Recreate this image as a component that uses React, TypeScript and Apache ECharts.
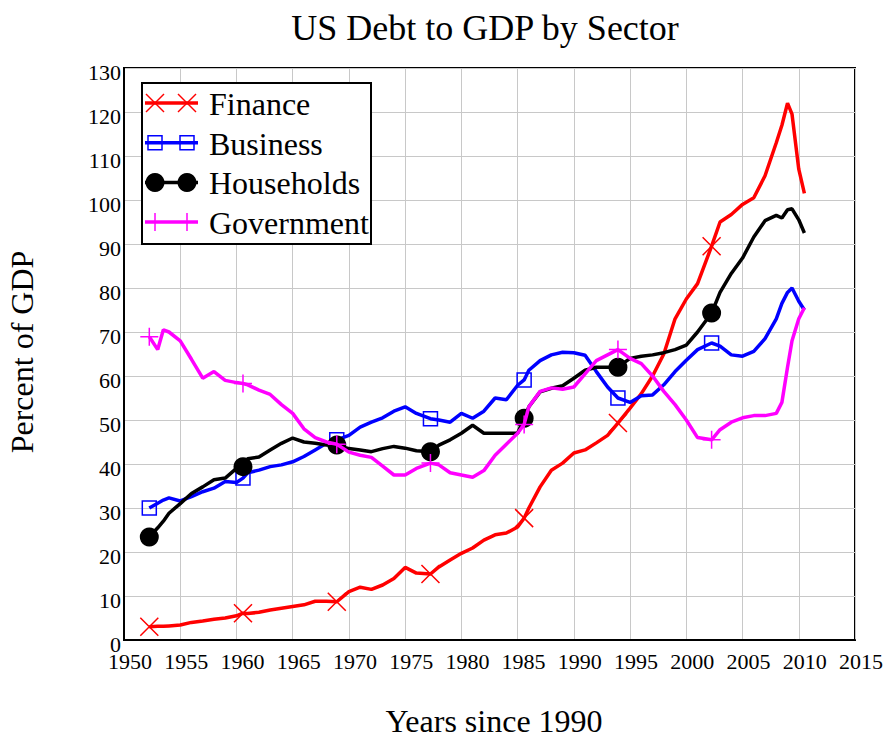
import React, { useEffect, useRef } from "react";
import * as echarts from "echarts";

const years = [
  1952.25, 1953, 1953.5, 1954, 1955, 1956, 1957, 1958, 1959, 1960,
  1960.58, 1961, 1962, 1963, 1964, 1965, 1966, 1967, 1968, 1968.92,
  1970, 1971, 1972, 1973, 1974, 1975, 1976, 1977.25, 1978, 1979,
  1980, 1981, 1982, 1983, 1984, 1985, 1985.58, 1986, 1987, 1988,
  1989, 1990, 1991, 1992, 1993, 1993.92, 1995, 1996, 1997, 1998,
  1999, 2000, 2001, 2002.25, 2003, 2004, 2005, 2006, 2007, 2008,
  2008.5, 2009, 2009.4, 2010, 2010.5,
];

const finance = [
  3, 3.1, 3.1, 3.2, 3.4, 4, 4.3, 4.7, 5, 5.5,
  6.1, 6, 6.3, 6.8, 7.2, 7.6, 8, 8.8, 8.8, 8.7,
  11, 12, 11.5, 12.5, 14, 16.5, 15.2, 15, 16.6, 18.2,
  19.7, 20.9, 22.7, 23.9, 24.3, 25.7, 27.7, 30, 34.8, 38.6,
  40.2, 42.5, 43.2, 44.8, 46.5, 49.3, 52.7, 56, 60, 65,
  73, 77.5, 81, 89.5, 95, 96.7, 99, 100.5, 105.5, 113,
  117, 122, 119.5, 107, 101.5,
];

const business = [
  30, 31.1, 31.8, 32.3, 31.6, 32.6, 33.7, 34.5, 36, 35.8,
  36.8, 38, 38.6, 39.4, 39.8, 40.5, 41.7, 43.2, 44.7, 45.5,
  46.5, 48.4, 49.5, 50.5, 52, 53, 51.5, 50.3, 50, 49.5,
  51.5, 50.4, 52, 55, 54.6, 57.9, 59.1, 61.3, 63.5, 64.8,
  65.4, 65.3, 64.7, 61, 57.5, 55, 54, 55.5, 55.7, 58,
  61, 63.6, 66, 67.5, 66.8, 64.8, 64.5, 65.6, 68.5, 73,
  76.5, 79, 80, 77, 75,
];

const households = [
  23.4, 25.5, 27, 28.8, 31, 33.3, 34.8, 36.4, 36.8, 39,
  39.4, 41.2, 41.6, 43.2, 44.7, 45.9, 45, 44.7, 44.3, 44.3,
  43.5, 43.2, 42.8, 43.5, 44, 43.6, 43, 42.8, 44.3, 45.5,
  47, 48.8, 47, 47, 47, 47, 50.4, 53, 56.4, 57.2,
  57.8, 59.5, 61.3, 62, 62, 62, 64, 64.5, 64.8, 65.3,
  66, 67, 70, 74.3, 79, 83.3, 86.8, 91.6, 95.3, 96.5,
  95.9, 97.8, 98, 95.5, 92.5,
];

const government = [
  68.9, 66, 70.5, 70, 68, 63.8, 59.5, 61, 59, 58.5,
  58.3, 58, 56.8, 55.8, 53.5, 51.5, 48, 46, 45, 44.5,
  42.7, 42, 41.5, 39.5, 37.5, 37.5, 39, 40.2, 39.8, 38,
  37.5, 37, 38.5, 42, 44.5, 47, 49, 53, 56.5, 57.3,
  57, 57.5, 60.5, 63.5, 64.8, 66, 64, 62.8, 60, 56.5,
  53.5, 50, 46, 45.5, 47.8, 49.5, 50.5, 51, 51, 51.5,
  54, 62, 68, 73, 75.5,
];

const markerYears = [1952.25, 1960.58, 1968.92, 1977.25, 1985.58, 1993.92, 2002.25];

const seriesNames = ["Finance", "Business", "Households", "Government"];
const seriesColors = ["#ff0000", "#0000ff", "#000000", "#ff00ff"];

const X_MIN = 1950;
const X_MAX = 2015;
const X_STEP = 5;
const Y_MIN = 0;
const Y_MAX = 130;
const Y_STEP = 10;

const FONT = "Liberation Serif";

function buildData(vals: number[]) {
  return years.map((yr, i) =>
    markerYears.includes(yr)
      ? { value: [yr, vals[i]] }
      : { value: [yr, vals[i]], symbol: "none" }
  );
}

const X_PATH = "path://M0,0L10,10M10,0L0,10";
const PLUS_PATH = "path://M5,0L5,10M0,5L10,5";

export default function App() {
  const ref = useRef<HTMLDivElement>(null);

  useEffect(() => {
    if (!ref.current) return;
    const chart = echarts.init(ref.current, null, { renderer: "svg" });

    const allVals = [finance, business, households, government];
    const symbolDefs = [
      { symbol: X_PATH, symbolSize: 18, itemStyle: { color: "rgba(0,0,0,0)", borderColor: "#ff0000", borderWidth: 1.5 } },
      { symbol: "rect", symbolSize: 14, itemStyle: { color: "rgba(0,0,0,0)", borderColor: "#0000ff", borderWidth: 1.5 } },
      { symbol: "circle", symbolSize: 19, itemStyle: { color: "#000000", borderWidth: 0 } },
      { symbol: PLUS_PATH, symbolSize: 18, itemStyle: { color: "rgba(0,0,0,0)", borderColor: "#ff00ff", borderWidth: 1.5 } },
    ];

    const series = seriesNames.map((name, k) => ({
      name,
      type: "line",
      xAxisIndex: 0,
      yAxisIndex: 0,
      data: buildData(allVals[k]),
      showSymbol: true,
      showAllSymbol: true,
      symbol: symbolDefs[k].symbol,
      symbolSize: symbolDefs[k].symbolSize,
      itemStyle: symbolDefs[k].itemStyle,
      lineStyle: { color: seriesColors[k], width: 3.5 },
      emphasis: { disabled: true },
      silent: true,
      z: 2 + k,
    }));

    const legendEls: any[] = [
      {
        type: "rect",
        shape: { x: 142, y: 83, width: 229, height: 161 },
        style: { fill: "#ffffff", stroke: "#000000", lineWidth: 2 },
        z: 100,
      },
    ];
    seriesNames.forEach((name, k) => {
      const yc = 103 + 39.7 * k;
      const c = seriesColors[k];
      legendEls.push({
        type: "line",
        shape: { x1: 145, y1: yc, x2: 198, y2: yc },
        style: { stroke: c, lineWidth: 3.5 },
        z: 101,
      });
      [155, 187].forEach((mx) => {
        if (k === 0) {
          legendEls.push({ type: "line", shape: { x1: mx - 9, y1: yc - 9, x2: mx + 9, y2: yc + 9 }, style: { stroke: c, lineWidth: 1.5 }, z: 102 });
          legendEls.push({ type: "line", shape: { x1: mx + 9, y1: yc - 9, x2: mx - 9, y2: yc + 9 }, style: { stroke: c, lineWidth: 1.5 }, z: 102 });
        } else if (k === 1) {
          legendEls.push({ type: "rect", shape: { x: mx - 7, y: yc - 7, width: 14, height: 14 }, style: { fill: "none", stroke: c, lineWidth: 1.5 }, z: 102 });
        } else if (k === 2) {
          legendEls.push({ type: "circle", shape: { cx: mx, cy: yc, r: 9.5 }, style: { fill: c }, z: 102 });
        } else {
          legendEls.push({ type: "line", shape: { x1: mx - 9, y1: yc, x2: mx + 9, y2: yc }, style: { stroke: c, lineWidth: 1.5 }, z: 102 });
          legendEls.push({ type: "line", shape: { x1: mx, y1: yc - 9, x2: mx, y2: yc + 9 }, style: { stroke: c, lineWidth: 1.5 }, z: 102 });
        }
      });
      legendEls.push({
        type: "text",
        x: 209,
        y: yc + 1,
        style: {
          text: name,
          fill: "#000000",
          font: `32px '${FONT}'`,
          textAlign: "left",
          textVerticalAlign: "middle",
        },
        z: 102,
      });
    });

    const option: any = {
      animation: false,
      backgroundColor: "#ffffff",
      textStyle: { fontFamily: FONT },
      grid: [
        {
          left: 124,
          top: 68,
          width: 731,
          height: 572,
          show: true,
          borderColor: "#000000",
          borderWidth: 2,
          backgroundColor: "#ffffff",
          containLabel: false,
          outerBoundsMode: "none",
        },
        {
          left: 130,
          top: 72,
          width: 731,
          height: 572,
          show: false,
          containLabel: false,
          outerBoundsMode: "none",
        },
      ],
      xAxis: [
        {
          type: "value",
          gridIndex: 0,
          min: X_MIN,
          max: X_MAX,
          interval: X_STEP,
          axisLine: { show: true, lineStyle: { color: "#000", width: 2 } },
          axisTick: { show: false },
          axisLabel: { show: false },
          splitLine: { show: true, lineStyle: { color: "#c8c8c8", width: 1 } },
        },
        {
          type: "value",
          gridIndex: 1,
          min: X_MIN,
          max: X_MAX,
          interval: X_STEP,
          axisLine: { show: false },
          axisTick: { show: false },
          splitLine: { show: false },
          axisLabel: {
            show: true,
            margin: 6,
            color: "#000",
            fontSize: 22,
            fontFamily: FONT,
            formatter: (v: number) => String(v),
          },
        },
      ],
      yAxis: [
        {
          type: "value",
          gridIndex: 0,
          min: Y_MIN,
          max: Y_MAX,
          interval: Y_STEP,
          axisLine: { show: true, lineStyle: { color: "#000", width: 2 } },
          axisTick: { show: false },
          axisLabel: { show: false },
          splitLine: { show: true, lineStyle: { color: "#c8c8c8", width: 1 } },
        },
        {
          type: "value",
          gridIndex: 1,
          min: Y_MIN,
          max: Y_MAX,
          interval: Y_STEP,
          axisLine: { show: false },
          axisTick: { show: false },
          splitLine: { show: false },
          axisLabel: {
            show: true,
            margin: 9,
            color: "#000",
            fontSize: 22,
            fontFamily: FONT,
          },
        },
      ],
      series,
      graphic: [
        {
          type: "text",
          x: 485,
          y: 28,
          style: {
            text: "US Debt to GDP by Sector",
            fill: "#000",
            font: `36px '${FONT}'`,
            textAlign: "center",
            textVerticalAlign: "middle",
          },
        },
        {
          type: "text",
          x: 22,
          y: 352,
          rotation: Math.PI / 2,
          style: {
            text: "Percent of GDP",
            fill: "#000",
            font: `32px '${FONT}'`,
            textAlign: "center",
            textVerticalAlign: "middle",
          },
        },
        {
          type: "text",
          x: 494,
          y: 721,
          style: {
            text: "Years since 1990",
            fill: "#000",
            font: `32px '${FONT}'`,
            textAlign: "center",
            textVerticalAlign: "middle",
          },
        },
        ...legendEls,
      ],
    };

    chart.setOption(option);
    return () => chart.dispose();
  }, []);

  return (
    <div
      ref={ref}
      style={{ position: "fixed", left: 0, top: 0, width: 887, height: 738 }}
    />
  );
}
